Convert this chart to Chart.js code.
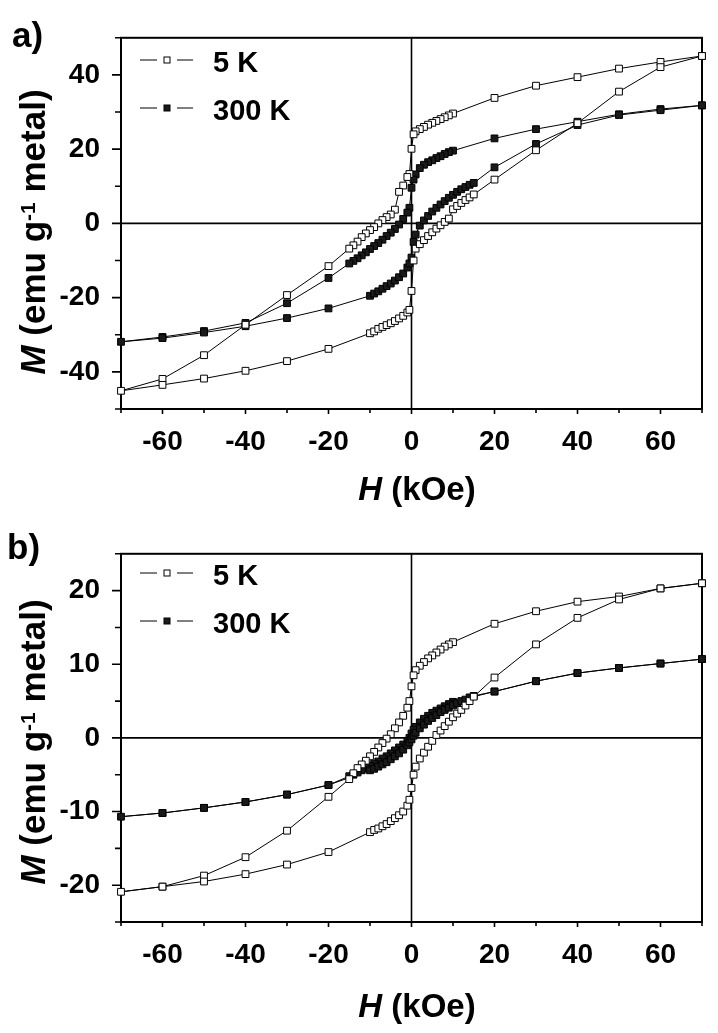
<!DOCTYPE html>
<html>
<head>
<meta charset="utf-8">
<script src="https://cdn.jsdelivr.net/npm/chart.js@4.4.1/dist/chart.umd.min.js"></script>
<style>
  html, body { margin: 0; padding: 0; background: #fff; }
  canvas { display: block; }
</style>
</head>
<body>
<canvas id="panelA" width="718" height="516"></canvas>
<canvas id="panelB" width="718" height="517"></canvas>
<script>
// Field sweep (kOe): down from +70 to -70, then back up to +70
const fieldDown = [70, 60, 50, 40, 30, 20, 10, 9, 8, 7, 6, 5, 4, 3, 2, 1, 0.5, 0, -0.5,
  -1, -2, -3, -4, -5, -6, -7, -8, -9, -10, -11, -12, -13, -14, -15, -20, -30, -40, -50, -60, -70];
const fieldUp = [-60, -50, -40, -30, -20, -10, -9, -8, -7, -6, -5, -4, -3, -2, -1, -0.5, 0, 0.5,
  1, 2, 3, 4, 5, 6, 7, 8, 9, 10, 11, 12, 13, 14, 15, 20, 30, 40, 50, 60, 70];

// Panel a) magnetisation (emu g-1 metal)
const a5KDown = [45.1, 43.5, 41.7, 39.4, 37.1, 33.8, 29.6, 29.1, 28.6, 28.1, 27.6, 27.1, 26.6, 26.0, 25.4, 24.8, 24.0, 20.1, 13.3,
  12.5, 10.2, 8.5, 3.7, 2.4, 1.7, 0.9, 0.0, -1.0, -1.8, -2.7, -3.7, -4.9, -5.9, -6.8, -11.5, -19.3, -27.3, -35.5, -41.9, -45.1];
const a5KUp = [-43.5, -41.8, -39.7, -37.1, -33.8, -29.6, -29.1, -28.4, -27.9, -27.4, -26.9, -26.3, -25.6, -24.9, -24.0, -23.3, -18.2, -10.0,
  -6.8, -5.6, -4.5, -3.4, -2.4, -1.4, -0.5, 0.4, 1.3, 3.8, 4.7, 5.5, 6.3, 7.0, 7.8, 11.8, 19.7, 27.0, 35.5, 42.1, 45.1];
const a300KDown = [31.8, 30.8, 29.4, 27.4, 25.4, 22.9, 19.6, 19.2, 18.7, 18.1, 17.6, 17.0, 16.5, 15.8, 14.9, 13.2, 11.8, 9.6, 4.2,
  2.9, 1.2, -0.3, -1.5, -2.5, -3.4, -4.4, -5.3, -6.1, -6.9, -7.8, -8.6, -9.4, -10.1, -10.8, -14.7, -21.5, -26.8, -29.0, -30.6, -31.9];
const a300KUp = [-30.9, -29.4, -27.7, -25.5, -22.9, -19.5, -18.9, -18.3, -17.6, -16.9, -16.2, -15.4, -14.5, -13.5, -11.9, -10.8, -9.2, -5.0,
  -3.0, -0.6, 0.8, 2.0, 3.2, 4.2, 5.1, 6.0, 6.9, 7.7, 8.5, 9.2, 9.8, 10.4, 10.9, 15.1, 21.4, 26.5, 29.2, 30.5, 31.8];

// Panel b)
const b5KDown = [21.0, 20.3, 19.2, 18.5, 17.2, 15.5, 13.0, 12.7, 12.4, 12.0, 11.6, 11.2, 10.8, 10.3, 9.8, 9.2, 8.5, 7.0, 5.0,
  4.1, 3.0, 2.1, 1.3, 0.5, -0.1, -0.7, -1.3, -1.9, -2.5, -3.1, -3.6, -4.1, -4.8, -5.6, -8.0, -12.6, -16.2, -18.7, -20.2, -20.9];
const b5KUp = [-20.2, -19.5, -18.5, -17.2, -15.5, -12.8, -12.5, -12.3, -12.0, -11.7, -11.3, -10.9, -10.5, -10.0, -9.2, -8.4, -6.8, -5.0,
  -3.9, -2.8, -2.0, -1.2, -0.4, 0.4, 1.0, 1.6, 2.2, 2.8, 3.3, 3.8, 4.4, 5.0, 5.6, 8.2, 12.7, 16.3, 18.8, 20.3, 21.0];
const b300KDown = [10.7, 10.1, 9.5, 8.8, 7.7, 6.3, 4.9, 4.6, 4.3, 4.0, 3.7, 3.4, 3.0, 2.6, 2.1, 1.5, 1.1, 0.6, 0.0,
  -0.4, -0.9, -1.3, -1.7, -2.1, -2.5, -2.8, -3.2, -3.5, -3.8, -4.1, -4.4, -4.7, -5.0, -5.2, -6.4, -7.7, -8.7, -9.5, -10.2, -10.7];
const b300KUp = [-10.2, -9.5, -8.7, -7.7, -6.4, -4.4, -4.2, -3.9, -3.6, -3.3, -2.9, -2.5, -2.1, -1.6, -1.0, -0.6, -0.2, 0.3,
  0.7, 1.3, 1.8, 2.3, 2.7, 3.1, 3.5, 3.8, 4.1, 4.4, 4.7, 5.0, 5.2, 5.5, 5.7, 6.3, 7.7, 8.8, 9.5, 10.1, 10.7];

const seriesLabels = ['5 K', '300 K'];
const seriesFills = ['#ffffff', '#1a1a1a'];

const FONT = "'Liberation Sans', Arial, Helvetica, sans-serif";
Chart.defaults.font.family = FONT;
Chart.defaults.color = '#000';

// join both branches so the line runs round the loop
const toLoop = (down, up) =>
  fieldDown.map((h, i) => ({ x: h, y: down[i] }))
    .concat(fieldUp.map((h, i) => ({ x: h, y: up[i] })));

// draw a run of differently styled text pieces centred on cx
function drawRuns(ctx, runs, cx, baseY) {
  const widths = runs.map(r => { ctx.font = r.font; return ctx.measureText(r.text).width; });
  let x = cx - widths.reduce((s, w) => s + w, 0) / 2;
  ctx.textAlign = 'left';
  ctx.textBaseline = 'alphabetic';
  runs.forEach((r, i) => {
    ctx.font = r.font;
    ctx.fillText(r.text, x, baseY + (r.dy || 0));
    x += widths[i];
  });
}

const panelDecor = {
  id: 'panelDecor',
  beforeDatasetsDraw(chart, args, o) {
    const { ctx, chartArea: a, scales: { x, y } } = chart;
    ctx.save();
    ctx.strokeStyle = '#000';
    // zero lines
    ctx.lineWidth = 1.6;
    const x0 = x.getPixelForValue(0);
    const y0 = y.getPixelForValue(0);
    ctx.beginPath();
    ctx.moveTo(x0, a.top); ctx.lineTo(x0, a.bottom);
    ctx.moveTo(a.left, y0); ctx.lineTo(a.right, y0);
    ctx.stroke();
    // frame
    ctx.lineWidth = 2;
    ctx.strokeRect(a.left, a.top, a.right - a.left, a.bottom - a.top);
    // tick marks, outward, longer on labelled ones
    ctx.lineWidth = 1.6;
    ctx.beginPath();
    x.ticks.forEach(t => {
      const px = x.getPixelForValue(t.value);
      const len = t.value % 20 === 0 ? 5 : 4;
      ctx.moveTo(px, a.bottom); ctx.lineTo(px, a.bottom + len);
    });
    y.ticks.forEach(t => {
      const py = y.getPixelForValue(t.value);
      const len = t.value % o.yMajor === 0 ? 9 : 6;
      ctx.moveTo(a.left, py); ctx.lineTo(a.left - len, py);
    });
    ctx.stroke();
    ctx.restore();
  },
  afterDatasetsDraw(chart, args, o) {
    const { ctx } = chart;
    ctx.save();
    ctx.fillStyle = '#000';
    ctx.strokeStyle = '#000';

    // panel letter
    ctx.font = `bold 35px ${FONT}`;
    ctx.textAlign = 'left';
    ctx.textBaseline = 'alphabetic';
    ctx.fillText(o.letter, o.letterX, o.letterY);

    // legend
    chart.data.datasets.forEach((ds, i) => {
      const ly = o.legendLineY[i];
      ctx.lineWidth = 1;
      ctx.beginPath();
      ctx.moveTo(140, ly); ctx.lineTo(157, ly);
      ctx.moveTo(177, ly); ctx.lineTo(193, ly);
      ctx.stroke();
      ctx.fillStyle = ds.pointBackgroundColor;
      ctx.fillRect(164, ly - 3, 6, 6);
      ctx.strokeRect(164, ly - 3, 6, 6);
      ctx.fillStyle = '#000';
      ctx.font = `bold 29px ${FONT}`;
      ctx.fillText(ds.label, 213, o.legendTextY[i]);
    });

    // x title
    drawRuns(ctx, [
      { text: 'H', font: `italic bold 33px ${FONT}` },
      { text: ' (kOe)', font: `bold 33px ${FONT}` }
    ], 417, o.xTitleY);

    // y title, rotated
    ctx.translate(45, o.yTitleY);
    ctx.rotate(-Math.PI / 2);
    drawRuns(ctx, [
      { text: 'M', font: `italic bold 35px ${FONT}` },
      { text: ' (emu g', font: `bold 35px ${FONT}` },
      { text: '-1', font: `bold 21px ${FONT}`, dy: -10 },
      { text: ' metal)', font: `bold 35px ${FONT}` }
    ], 0, 0);
    ctx.restore();
  }
};

function makePanel(id, loops, p) {
  return new Chart(document.getElementById(id), {
    type: 'scatter',
    data: {
      datasets: loops.map((pts, i) => ({
        label: seriesLabels[i],
        data: pts,
        showLine: true,
        borderColor: '#000',
        borderWidth: 1,
        tension: 0,
        pointStyle: 'rect',
        pointRadius: 4.8,
        pointBorderWidth: 1,
        pointBorderColor: '#000',
        pointBackgroundColor: seriesFills[i],
        clip: false
      }))
    },
    options: {
      responsive: false,
      animation: false,
      devicePixelRatio: 1,
      events: [],
      layout: { padding: { top: p.top, right: 12, left: 0, bottom: 0 } },
      plugins: {
        legend: { display: false },
        tooltip: { enabled: false },
        panelDecor: p.decor
      },
      scales: {
        x: {
          type: 'linear', min: -70, max: 70,
          afterFit: s => { s.height = p.xHeight; },
          grid: { display: false, drawTicks: false },
          border: { display: false },
          ticks: {
            stepSize: 10, autoSkip: false, maxRotation: 0, padding: 16,
            color: '#000', font: { size: 28, weight: 'bold' },
            callback: v => (v % 20 === 0 ? v : '')
          }
        },
        y: {
          type: 'linear', min: p.yMin, max: p.yMax,
          afterFit: s => { s.width = 121; },
          grid: { display: false, drawTicks: false },
          border: { display: false },
          ticks: {
            stepSize: p.yStep, autoSkip: false, padding: 21,
            color: '#000', font: { size: 28, weight: 'bold' },
            callback: v => (v % p.decor.yMajor === 0 ? v : '')
          }
        }
      }
    },
    plugins: [panelDecor]
  });
}

makePanel('panelA', [toLoop(a5KDown, a5KUp), toLoop(a300KDown, a300KUp)], {
  top: 34, xHeight: 107, yMin: -50, yMax: 50, yStep: 10,
  decor: { yMajor: 20, letter: 'a)', letterX: 12, letterY: 47,
    legendLineY: [60, 108], legendTextY: [72, 120], xTitleY: 500, yTitleY: 232 }
});

makePanel('panelB', [toLoop(b5KDown, b5KUp), toLoop(b300KDown, b300KUp)], {
  top: 30, xHeight: 111, yMin: -25, yMax: 25, yStep: 5,
  decor: { yMajor: 10, letter: 'b)', letterX: 7, letterY: 43,
    legendLineY: [57, 105], legendTextY: [69, 117], xTitleY: 501, yTitleY: 226 }
});
</script>
</body>
</html>
